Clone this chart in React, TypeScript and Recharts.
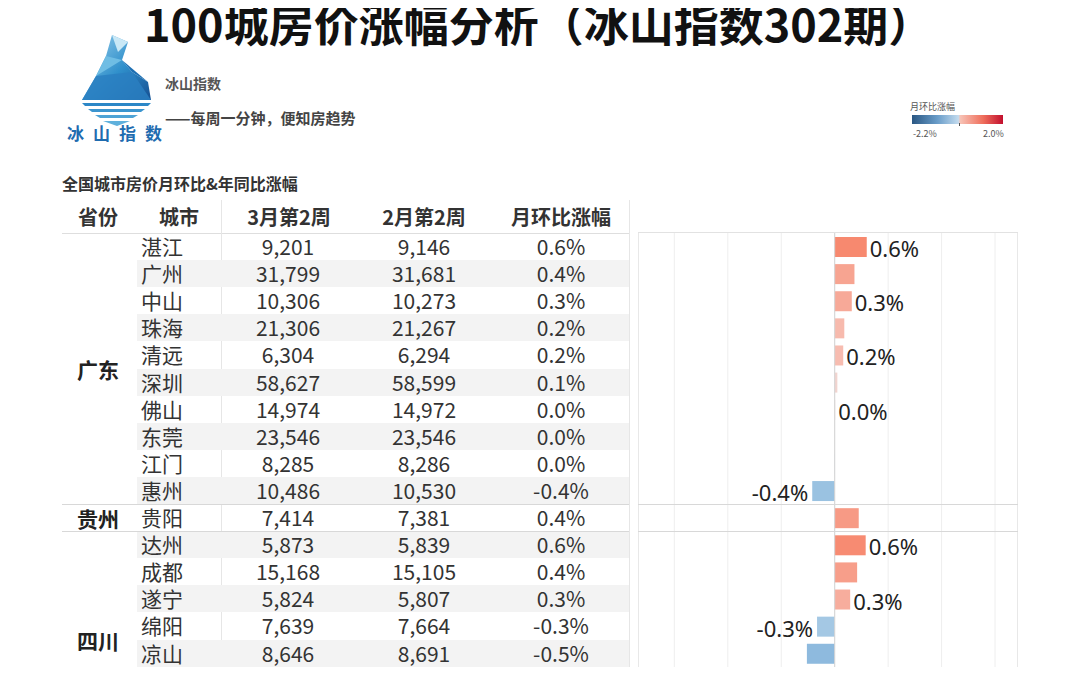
import React from 'react';
import { BarChart, Bar, XAxis, YAxis, CartesianGrid, ReferenceLine, Cell, LabelList } from 'recharts';

// rows as read from the table (德阳 is cut off at the bottom of the picture)
const cities = ['湛江', '广州', '中山', '珠海', '清远', '深圳', '佛山', '东莞', '江门', '惠州', '贵阳', '达州', '成都', '遂宁', '绵阳', '凉山', '德阳'];
const provinces = ['广东', '贵州', '四川'];
const provinceRows = [10, 1, 8];
const marchPrice = [9201, 31799, 10306, 21306, 6304, 58627, 14974, 23546, 8285, 10486, 7414, 5873, 15168, 5824, 7639, 8646, 5842];
const febPrice = [9146, 31681, 10273, 21267, 6294, 58599, 14972, 23546, 8286, 10530, 7381, 5839, 15105, 5807, 7664, 8691, 5877];
// month-on-month change in %, bar lengths read off the chart
const momChange = [0.6, 0.37, 0.32, 0.18, 0.16, 0.05, 0.01, 0, -0.01, -0.42, 0.45, 0.58, 0.42, 0.29, -0.33, -0.52, -0.6];
const momText = ['0.6%', '0.4%', '0.3%', '0.2%', '0.2%', '0.1%', '0.0%', '0.0%', '0.0%', '-0.4%', '0.4%', '0.6%', '0.4%', '0.3%', '-0.3%', '-0.5%', '-0.6%'];
const showLabel = [true, false, true, false, true, false, true, false, false, true, false, true, false, true, true, false, true];
const xTicks = [-3, -2, -1, 0, 1, 2, 3];
const headers = ['省份', '城市', '3月第2周', '2月第2周', '月环比涨幅'];
const headerX = [98, 179, 289, 424, 561];

const FONT = '"Noto Sans CJK SC", "Noto Sans", sans-serif';
const ROW_TOP = 233;
const ROW_H = 27.1;

const data = cities.map((c, i) => ({
  city: c,
  mom: momChange[i],
  tag: showLabel[i] ? momText[i] : '',
}));

const posStops: [number, string][] = [[0, '#eedfdd'], [0.08, '#f7bcb0'], [0.3, '#f7896f'], [0.6, '#e5483f'], [1, '#c20f2e']];
const negStops: [number, string][] = [[0, '#e2e8ee'], [0.1, '#b0d0e8'], [0.27, '#86b5db'], [0.6, '#4f84b5'], [1, '#2a5783']];

function hex(c: string) {
  return [1, 3, 5].map((k) => parseInt(c.slice(k, k + 2), 16));
}

function colorFor(v: number) {
  const stops = v >= 0 ? posStops : negStops;
  const t = Math.min(1, Math.abs(v) / (v >= 0 ? 2.0 : 2.2));
  for (let i = 1; i < stops.length; i++) {
    if (t <= stops[i][0]) {
      const [t0, c0] = stops[i - 1];
      const [t1, c1] = stops[i];
      const f = (t - t0) / (t1 - t0);
      const a = hex(c0), b = hex(c1);
      const m = a.map((x, k) => Math.round(x + (b[k] - x) * f));
      return `rgb(${m[0]},${m[1]},${m[2]})`;
    }
  }
  return stops[stops.length - 1][1];
}

const BarLabel = (props: any) => {
  const vb = props.viewBox || props;
  const { x, y, width, height } = vb;
  const value = props.value;
  if (!value) return null;
  const left = Math.min(x, x + width);
  const right = Math.max(x, x + width);
  const neg = String(value).startsWith('-');
  return (
    <text
      x={neg ? left - 4 : right + 3}
      y={y + height / 2 + 1}
      textAnchor={neg ? 'end' : 'start'}
      dominantBaseline="central"
      fontSize={22}
      fill="#222"
      fontFamily='"Noto Sans", sans-serif'
    >
      {value}
    </text>
  );
};

function Logo() {
  return (
    <svg width={90} height={95} style={{ position: 'absolute', left: 72, top: 32 }}>
      <defs>
        <linearGradient id="berg" x1="0" y1="0" x2="1" y2="1">
          <stop offset="0%" stopColor="#9fd3ee" />
          <stop offset="55%" stopColor="#2f8fcb" />
          <stop offset="100%" stopColor="#154f92" />
        </linearGradient>
      </defs>
      <polygon points="40,3 56,10 50,28 60,40 76,50 79,68 10,68 24,44 34,24" fill="url(#berg)" />
      <polygon points="40,3 56,10 46,20" fill="#c9e8f6" />
      <polygon points="34,24 50,28 24,44" fill="#6fbde4" />
      <polygon points="50,28 76,50 60,40" fill="#1d6fb3" />
      <polygon points="24,44 60,40 79,68 10,68" fill="#2a7fc1" opacity={0.85} />
      <polygon points="10,71 79,71 76,74 13,74" fill="#2c87c7" />
      <polygon points="16,77 73,77 69,80 20,80" fill="#3b95cf" />
      <polygon points="23,83 66,83 61,86 28,86" fill="#4ea3d6" />
      <polygon points="31,89 58,89 45,94" fill="#5fb0dc" />
    </svg>
  );
}

export default function App() {
  const provinceBlocks: { name: string; start: number; rows: number }[] = [];
  let acc = 0;
  provinces.forEach((p, i) => {
    provinceBlocks.push({ name: p, start: acc, rows: provinceRows[i] });
    acc += provinceRows[i];
  });
  const separators = provinceBlocks.slice(1).map((b) => ROW_TOP + b.start * ROW_H);

  return (
    <div
      style={{
        position: 'relative',
        width: 1080,
        height: 675,
        margin: -8,
        overflow: 'hidden',
        background: '#fff',
        fontFamily: FONT,
        color: '#333',
      }}
    >
      <div style={{ position: 'absolute', left: 144, top: 0, fontSize: 45, lineHeight: '46px', fontWeight: 700, color: '#111', whiteSpace: 'nowrap' }}>
        100城房价涨幅分析（冰山指数302期）
      </div>

      <Logo />
      <div style={{ position: 'absolute', left: 67, top: 120, fontSize: 17, fontWeight: 700, color: '#1f6cb0', letterSpacing: 9, whiteSpace: 'nowrap' }}>
        冰山指数
      </div>
      <div style={{ position: 'absolute', left: 165, top: 73, fontSize: 14, fontWeight: 600, color: '#555' }}>冰山指数</div>
      <div style={{ position: 'absolute', left: 165, top: 107, fontSize: 15, fontWeight: 600, color: '#444', whiteSpace: 'nowrap' }}>
        ——每周一分钟，便知房趋势
      </div>

      {/* colour legend */}
      <div style={{ position: 'absolute', left: 910, top: 100, fontSize: 9, color: '#555' }}>月环比涨幅</div>
      <div
        style={{
          position: 'absolute',
          left: 912,
          top: 115,
          width: 91,
          height: 9,
          background: 'linear-gradient(to right, #2a5783 0%, #6a9dc9 28%, #c3dbee 51%, #f7c2b5 53%, #ef6f5c 78%, #c20f2e 100%)',
        }}
      />
      <div style={{ position: 'absolute', left: 959, top: 123, width: 1, height: 3, background: '#555' }} />
      <div style={{ position: 'absolute', left: 913, top: 127, fontSize: 9, color: '#555' }}>-2.2%</div>
      <div style={{ position: 'absolute', left: 983, top: 127, fontSize: 9, color: '#555' }}>2.0%</div>

      <div style={{ position: 'absolute', left: 62, top: 171, fontSize: 16, fontWeight: 700, color: '#333', whiteSpace: 'nowrap' }}>
        全国城市房价月环比&年同比涨幅
      </div>

      {/* table header */}
      {headers.map((h, i) => (
        <div
          key={h}
          style={{ position: 'absolute', left: headerX[i] - 70, width: 140, top: 201, textAlign: 'center', fontSize: 20, fontWeight: 700, color: '#333', lineHeight: '32px' }}
        >
          {h}
        </div>
      ))}
      <div style={{ position: 'absolute', left: 62, top: ROW_TOP, width: 567, height: 1, background: '#dedede' }} />
      <div style={{ position: 'absolute', left: 221, top: 200, width: 1, height: 500, background: '#e6e6e6' }} />
      <div style={{ position: 'absolute', left: 629, top: 200, width: 1, height: 500, background: '#e6e6e6' }} />

      {/* table rows */}
      {cities.map((c, i) => {
        const top = ROW_TOP + i * ROW_H;
        return (
          <React.Fragment key={c}>
            {i % 2 === 1 && (
              <div style={{ position: 'absolute', left: 137, top, width: 492, height: ROW_H, background: '#f3f3f3' }} />
            )}
            <div style={{ position: 'absolute', left: 141, top, lineHeight: `${ROW_H}px`, fontSize: 21 }}>{c}</div>
            <div style={{ position: 'absolute', left: 228, width: 120, top, lineHeight: `${ROW_H}px`, fontSize: 21, textAlign: 'center' }}>
              {marchPrice[i].toLocaleString('en-US')}
            </div>
            <div style={{ position: 'absolute', left: 364, width: 120, top, lineHeight: `${ROW_H}px`, fontSize: 21, textAlign: 'center' }}>
              {febPrice[i].toLocaleString('en-US')}
            </div>
            <div style={{ position: 'absolute', left: 501, width: 120, top, lineHeight: `${ROW_H}px`, fontSize: 21, textAlign: 'center' }}>
              {momText[i]}
            </div>
          </React.Fragment>
        );
      })}

      {provinceBlocks.map((b) => (
        <div
          key={b.name}
          style={{
            position: 'absolute',
            left: 62,
            width: 72,
            top: ROW_TOP + (b.start + b.rows / 2) * ROW_H - 16,
            lineHeight: '32px',
            textAlign: 'center',
            fontSize: 21,
            fontWeight: 700,
            color: '#222',
          }}
        >
          {b.name}
        </div>
      ))}

      {/* bar chart pane */}
      <div style={{ position: 'absolute', left: 638, top: ROW_TOP - 1, width: 380, height: 480, border: '1px solid #e2e2e2', boxSizing: 'border-box' }} />
      <div style={{ position: 'absolute', left: 638, top: ROW_TOP }}>
        <BarChart width={380} height={Math.round(cities.length * ROW_H)} data={data} layout="vertical" margin={{ top: 0, right: 0, bottom: 0, left: 0 }}>
          <CartesianGrid horizontal={false} stroke="#eeeeee" />
          <XAxis type="number" domain={[-3.68, 3.43]} ticks={xTicks} allowDataOverflow hide />
          <YAxis type="category" dataKey="city" hide />
          <ReferenceLine x={0} stroke="#d4d4d4" />
          <Bar dataKey="mom" barSize={20} isAnimationActive={false}>
            {data.map((d) => (
              <Cell key={d.city} fill={colorFor(d.mom)} />
            ))}
            <LabelList dataKey="tag" content={BarLabel} />
          </Bar>
        </BarChart>
      </div>

      {separators.map((y) => (
        <React.Fragment key={y}>
          <div style={{ position: 'absolute', left: 62, top: y, width: 567, height: 1, background: '#d8d8d8' }} />
          <div style={{ position: 'absolute', left: 638, top: y, width: 380, height: 1, background: '#d8d8d8' }} />
        </React.Fragment>
      ))}
    </div>
  );
}
